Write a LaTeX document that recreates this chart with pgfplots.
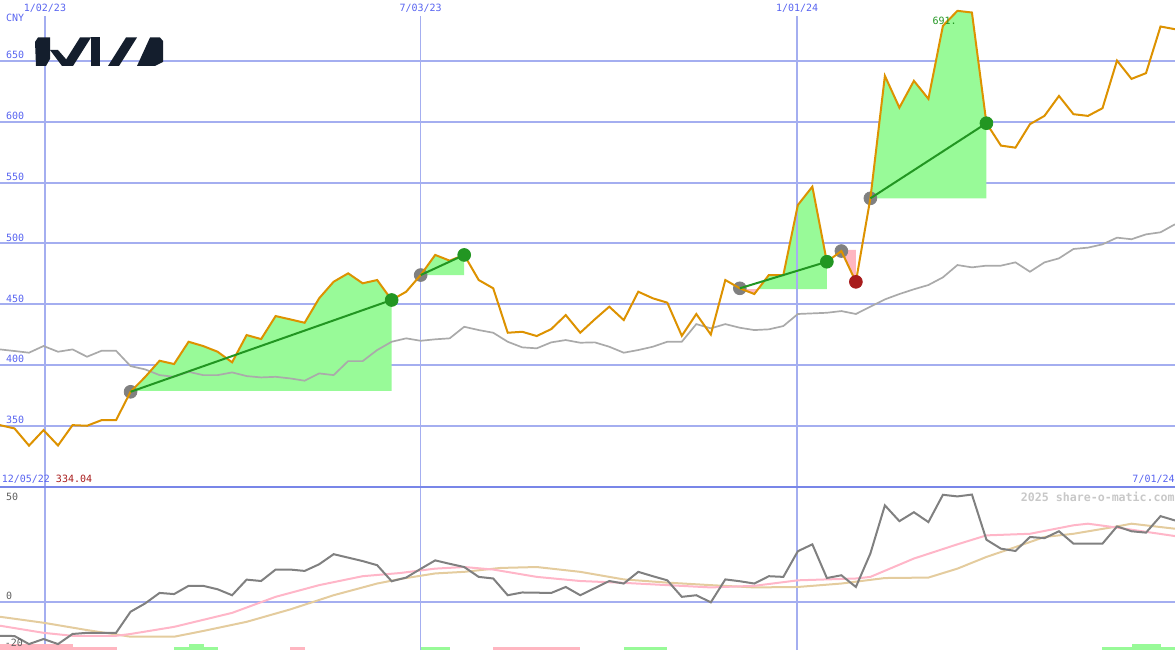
\documentclass[border=0pt]{standalone}
\usepackage{pgfplots}
\pgfplotsset{compat=1.18}
\usepackage{pgfplotstable}
\usepgfplotslibrary{fillbetween}
\usepackage{fontspec}
\setmonofont{DejaVu Sans Mono}

\definecolor{gridblue}{RGB}{164,174,240}
\definecolor{sepblue}{RGB}{120,134,232}
\definecolor{txtblue}{RGB}{88,100,240}
\definecolor{priceor}{RGB}{221,146,0}
\definecolor{magray}{RGB}{170,170,170}
\definecolor{fillgreen}{RGB}{152,250,152}
\definecolor{linegreen}{RGB}{34,150,34}
\definecolor{fillpink}{RGB}{255,182,193}
\definecolor{mkgray}{RGB}{128,128,128}
\definecolor{mkred}{RGB}{168,28,28}
\definecolor{oscgray}{RGB}{128,128,128}
\definecolor{oscpink}{RGB}{255,182,200}
\definecolor{osctan}{RGB}{228,204,158}
\definecolor{kianavy}{RGB}{20,30,45}
\definecolor{labgray}{RGB}{95,95,95}
\definecolor{wmgray}{RGB}{200,200,200}

\newcommand{\px}{\ttfamily\fontsize{5}{6}\selectfont}

% weekly closes (k = weeks from 1/02/23), price and moving average
\pgfplotstableread{
k p ma
-3 350.8 413.0
-2 348.1 411.7
-1 334.0 410.3
0 346.7 415.8
1 334.1 411.1
2 350.8 413.0
3 350.3 407.0
4 354.9 411.9
5 354.9 411.9
6 378.2 399.3
7 390.3 396.6
8 403.7 391.9
9 401.0 390.5
10 419.3 394.6
11 415.8 391.9
12 411.1 391.9
13 402.4 394.1
14 424.8 391.1
15 421.5 390.0
16 440.4 390.5
17 437.7 389.2
18 434.9 387.3
19 455.0 393.3
20 468.6 391.9
21 475.5 403.4
22 467.3 403.4
23 470.0 412.5
24 453.6 419.3
25 460.4 422.1
26 474.1 420.1
27 490.6 421.3
28 485.9 422.1
29 490.6 431.6
30 470.0 428.9
31 463.2 426.7
32 426.7 419.3
33 427.5 414.7
34 424.0 413.9
35 429.7 418.8
36 441.2 420.7
37 426.7 418.5
38 437.7 418.8
39 448.1 415.2
40 437.1 410.3
41 460.4 412.5
42 455.0 415.2
43 451.4 419.3
44 424.2 419.3
45 442.1 433.8
46 425.2 430.3
47 470.0 433.8
48 463.2 430.8
49 458.5 428.9
50 474.1 429.5
51 474.1 432.2
52 531.6 442.1
53 546.7 442.6
54 485.0 443.1
55 493.8 444.5
56 468.5 442.1
57 537.1 448.1
58 637.7 454.1
59 611.6 458.5
60 633.6 462.4
61 618.8 465.9
62 678.8 472.2
63 691.1 482.3
64 689.7 480.4
65 598.8 481.8
66 580.4 481.8
67 578.7 484.5
68 598.0 476.8
69 604.8 484.5
70 621.2 487.8
71 606.2 495.5
72 604.8 496.6
73 611.1 499.3
74 650.2 504.8
75 635.2 503.5
76 639.9 507.5
77 678.2 509.2
78 676.0 515.8
}\topdata

\pgfplotstableread{
k v
-3 -14.9
-2 -15.0
-1 -18.5
0 -16.3
1 -18.5
2 -14.1
3 -13.6
4 -13.6
5 -13.6
6 -4.4
7 -0.8
8 3.8
9 3.3
10 6.9
11 6.9
12 5.4
13 2.8
14 9.6
15 9.0
16 14.0
17 14.0
18 13.4
19 16.3
20 20.7
21 19.2
22 17.7
23 15.9
24 8.9
25 10.5
26 14.3
27 18.0
28 16.5
29 15.1
30 10.8
31 10.1
32 2.8
33 4.0
34 3.9
35 3.8
36 6.4
37 2.8
38 5.9
39 9.0
40 7.9
41 13.0
42 11.1
43 9.3
44 2.1
45 2.8
46 -0.3
47 9.7
48 8.9
49 7.9
50 11.1
51 10.8
52 22.0
53 25.0
54 10.3
55 11.5
56 6.4
57 21.0
58 42.0
59 35.1
60 39.0
61 34.7
62 46.6
63 45.9
64 46.7
65 27.0
66 23.1
67 22.1
68 28.2
69 27.7
70 30.7
71 25.3
72 25.3
73 25.3
74 32.8
75 30.7
76 30.1
77 37.3
78 35.4
}\oscdata

\pgfplotstableread{
k v
-3 -10.5
0 -13.6
2 -14.9
5 -14.9
6 -14.1
9 -11.0
13 -4.9
16 2.1
19 7.2
22 11.1
24.6 12.5
27 14.4
29 15.1
31 14.0
34 10.8
37 9.0
40 8.2
43 7.2
46 6.2
49 6.9
52 9.3
56 10.1
57 10.8
60 18.8
63 25.0
65 28.9
68 29.6
71 33.3
72 34.0
74 32.3
78 28.6
}\pinkdata

\pgfplotstableread{
k v
-3 -6.6
0 -9.2
3 -12.4
5 -14.3
6 -15.3
9 -15.3
11 -12.8
14 -8.8
17 -3.4
20 2.8
23 7.9
24.6 9.9
27 12.3
29 13.0
31.5 14.7
34 15.1
37 13.0
40 9.7
43 8.3
46 7.2
49 6.2
52 6.4
55 7.9
58 10.3
61 10.5
63 14.4
65 19.5
67 23.8
69 28.2
71 29.6
74 32.8
75 34.0
78 31.8
}\tandata

\begin{document}
\begin{tikzpicture}
\begin{axis}[
  name=top, scale only axis, width=587.5pt, height=243.5pt,
  xmin=-3, xmax=78, ymin=300, ymax=700,
  axis line style={draw=none}, tick style={draw=none},
  xtick=\empty,
  ytick={350,400,450,500,550,600,650},
  yticklabels={350,400,450,500,550,600,650},
  yticklabel style={anchor=south west, inner sep=0pt, xshift=2.8pt, yshift=0.9pt,
    text=txtblue, font=\px},
  ymajorgrids, grid style={gridblue, line width=1pt},
  clip mode=individual,
]
\draw[gridblue, line width=0.75pt] (axis cs:0.1,686.8) -- (axis cs:0.1,300);
\draw[gridblue, line width=0.75pt] (axis cs:26,686.8) -- (axis cs:26,300);
\draw[gridblue, line width=0.75pt] (axis cs:51.95,686.8) -- (axis cs:51.95,300);

\addplot[draw=none, name path=price, forget plot] table[x=k, y=p] {\topdata};
\addplot[draw=none, name path=b1, forget plot] coordinates {(6,379) (24,379)};
\addplot[draw=none, name path=b2, forget plot] coordinates {(26,474) (29,474)};
\addplot[draw=none, name path=b3, forget plot] coordinates {(48,462.6) (54,462.6)};
\addplot[draw=none, name path=b4, forget plot] coordinates {(55,494.7) (56,494.7)};
\addplot[draw=none, name path=b5, forget plot] coordinates {(57,537.1) (65,537.1)};
\addplot[fillgreen, draw=none] fill between[of=price and b1, soft clip={domain=6:24}];
\addplot[fillgreen, draw=none] fill between[of=price and b2, soft clip={domain=26:29}];
\addplot[fillgreen, draw=none] fill between[of=price and b3, soft clip={domain=48:54}];
\addplot[fillpink, draw=none] fill between[of=price and b3, soft clip={domain=48:49.3}];
\addplot[fillpink, draw=none] fill between[of=price and b4, soft clip={domain=55:56}];
\addplot[fillgreen, draw=none] fill between[of=price and b5, soft clip={domain=57:65}];

\addplot[magray, line width=0.85pt] table[x=k, y=ma] {\topdata};
\addplot[only marks, mark=*, mark size=3.2pt, mkgray, mark options={draw=mkgray, fill=mkgray}]
  coordinates {(6,378.2) (26,474.1) (48,463.2) (55,493.8) (57,537.1)};
\addplot[priceor, line width=1pt] table[x=k, y=p] {\topdata};
\addplot[linegreen, line width=1pt] coordinates {(6,378.2) (24,453.6)};
\addplot[linegreen, line width=1pt] coordinates {(26,474.1) (29,490.6)};
\addplot[linegreen, line width=1pt] coordinates {(48,463.2) (54,485.0)};
\addplot[linegreen, line width=1pt] coordinates {(57,537.1) (65,598.8)};
\addplot[only marks, mark=*, mark size=3.2pt, linegreen, mark options={draw=linegreen, fill=linegreen}]
  coordinates {(24,453.6) (29,490.6) (54,485.0) (65,598.8)};
\addplot[only marks, mark=*, mark size=3.2pt, mkred, mark options={draw=mkred, fill=mkred}]
  coordinates {(56,468.5)};

\node[font=\px, text=txtblue, inner sep=0pt] at (axis cs:0.1,693.4) {1/02/23};
\node[font=\px, text=txtblue, inner sep=0pt] at (axis cs:26,693.4) {7/03/23};
\node[font=\px, text=txtblue, inner sep=0pt] at (axis cs:51.95,693.4) {1/01/24};
\node[font=\px, text=txtblue, inner sep=0pt, anchor=west] at (axis cs:-3,685.2) {\hspace{2.8pt}CNY};
\node[font=\px, text=linegreen, inner sep=0pt] at (axis cs:62.12,682.5) {691.};
\node[font=\px, inner sep=0pt, anchor=west] at (axis cs:-3,306.7)
  {\hspace{0.7pt}\textcolor{txtblue}{12/05/22} \textcolor{mkred}{334.04}};
\node[font=\px, text=txtblue, inner sep=0pt, anchor=east] at (axis cs:78,306.7) {7/01/24\hspace{1.5pt}};
\end{axis}

% logo
\begin{scope}[shift={(top.north west)}, x=0.5pt, y=-0.5pt]
\fill[kianavy] (35,42) -- (38,37.5) -- (50,37.5) -- (50,59) -- (46,66) -- (36,66) -- cycle;
\fill[kianavy] (50,50) -- (58,50) -- (72,66) -- (62,66) -- cycle;
\fill[kianavy] (62,66) -- (80,37.5) -- (91,37.5) -- (73,66) -- cycle;
\fill[kianavy] (91,37.5) -- (100,37.5) -- (100,66) -- (91,66) -- cycle;
\fill[kianavy] (108,66) -- (126,37.5) -- (137,37.5) -- (119,66) -- cycle;
\fill[kianavy] (150,37.5) -- (160,37.5) -- (163,41) -- (163,62) -- (155,66) -- (137,66) -- cycle;
\end{scope}

\begin{axis}[
  name=bot, at={(top.south west)}, anchor=north west,
  scale only axis, width=587.5pt, height=81.5pt,
  xmin=-3, xmax=78, ymin=-21.09, ymax=50,
  axis line style={draw=none}, tick style={draw=none},
  xtick=\empty, ytick={0}, yticklabels={},
  ymajorgrids, grid style={gridblue, line width=1pt},
  clip mode=individual,
]
\draw[gridblue, line width=0.75pt] (axis cs:0.1,-21.09) -- (axis cs:0.1,50);
\draw[gridblue, line width=0.75pt] (axis cs:26,-21.09) -- (axis cs:26,50);
\draw[gridblue, line width=0.75pt] (axis cs:51.95,-21.09) -- (axis cs:51.95,50);

% signal bars along the bottom edge
\addplot[fill=fillpink, draw=none] coordinates {(-3,-21.09) (-3,-18.5) (2,-18.5) (2,-21.09)} -- cycle;
\addplot[fill=fillpink, draw=none] coordinates {(2,-21.09) (2,-19.65) (5.05,-19.65) (5.05,-21.09)} -- cycle;
\addplot[fill=fillgreen, draw=none] coordinates {(9,-21.09) (9,-19.65) (12,-19.65) (12,-21.09)} -- cycle;
\addplot[fill=fillgreen, draw=none] coordinates {(10,-21.09) (10,-18.5) (11.05,-18.5) (11.05,-21.09)} -- cycle;
\addplot[fill=fillpink, draw=none] coordinates {(17,-21.09) (17,-19.65) (18,-19.65) (18,-21.09)} -- cycle;
\addplot[fill=fillgreen, draw=none] coordinates {(26,-21.09) (26,-19.65) (28,-19.65) (28,-21.09)} -- cycle;
\addplot[fill=fillpink, draw=none] coordinates {(31,-21.09) (31,-19.65) (37,-19.65) (37,-21.09)} -- cycle;
\addplot[fill=fillgreen, draw=none] coordinates {(40,-21.09) (40,-19.65) (43,-19.65) (43,-21.09)} -- cycle;
\addplot[fill=fillgreen, draw=none] coordinates {(73,-21.09) (73,-19.65) (78,-19.65) (78,-21.09)} -- cycle;
\addplot[fill=fillgreen, draw=none] coordinates {(75,-21.09) (75,-18.5) (77,-18.5) (77,-21.09)} -- cycle;

\addplot[osctan, line width=1pt] table[x=k, y=v] {\tandata};
\addplot[oscpink, line width=1pt] table[x=k, y=v] {\pinkdata};
\addplot[oscgray, line width=1pt] table[x=k, y=v] {\oscdata};

\draw[sepblue, line width=1pt] (axis cs:-3,50) -- (axis cs:78,50);

\node[font=\px, text=labgray, inner sep=0pt, anchor=north west] at (axis cs:-3,47.5) {\hspace{2.8pt}50};
\node[font=\px, text=labgray, inner sep=0pt, anchor=south west] at (axis cs:-3,0.9) {\hspace{2.8pt}0};
\node[font=\px, text=labgray, inner sep=0pt, anchor=south west] at (axis cs:-3,-19.9) {\hspace{2.2pt}-20};
\node[font={\ttfamily\bfseries\fontsize{5.8}{7}\selectfont}, text=wmgray, inner sep=0pt, anchor=east]
  at (axis cs:78,45.9) {2025 share-o-matic.com\hspace{1.5pt}};
\end{axis}

\pgfresetboundingbox
\path[use as bounding box] (top.north west) rectangle (bot.south east);
\end{tikzpicture}
\end{document}
